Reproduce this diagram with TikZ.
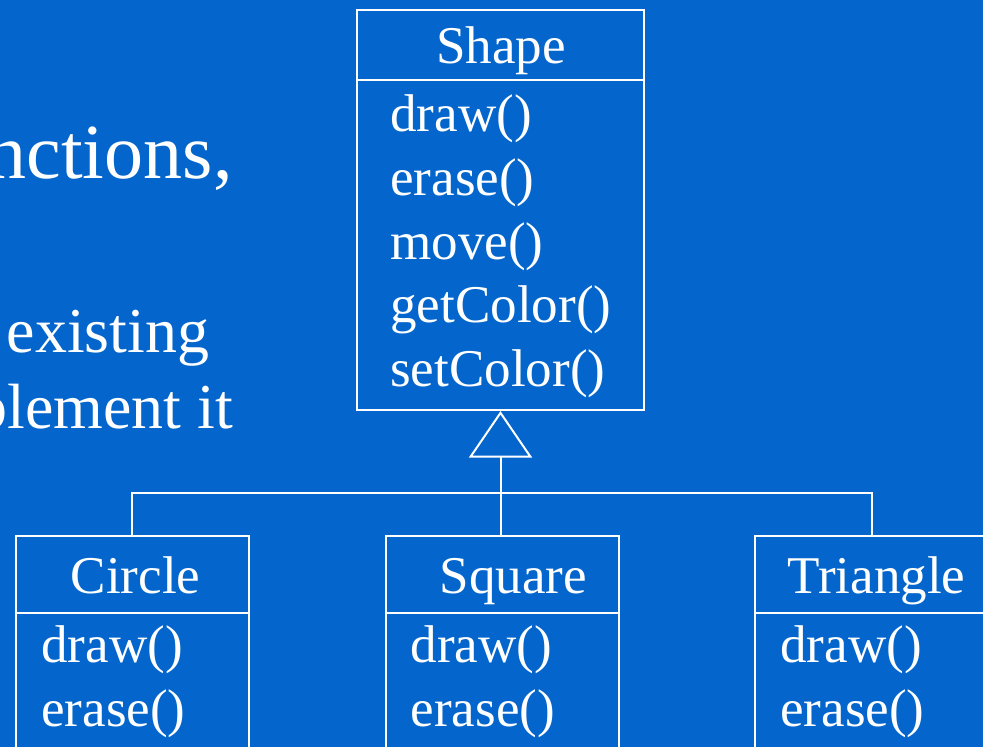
\documentclass[tikz,border=0pt]{standalone}
\usepackage{fontspec}
\setmainfont{Liberation Serif}
\usetikzlibrary{arrows.meta}
\definecolor{slide-blue}{RGB}{4, 102, 204}
\newcommand{\umlsize}{\fontsize{30.2}{36}\selectfont}

\begin{document}
\begin{tikzpicture}[x=0.02cm, y=-0.02cm, line width=0.04cm, white,
        box/.style={draw=white, inner sep=0pt, minimum width=4.66cm},
        title/.style={anchor=base, inner sep=0pt, font=\umlsize},
        member/.style={anchor=base west, inner sep=0pt, font=\umlsize}]
                \path[use as bounding box, fill=slide-blue] (0,0) rectangle (983,747);
                \clip (0,0) rectangle (983,747);
                \node[anchor=base east, inner sep=0pt, font=\fontsize{44.4}{53}\selectfont] (fn) at (233.5,178.5) {nctions,};
                \node[anchor=base west, inner sep=0pt, font=\fontsize{36.4}{44}\selectfont] (ex) at (5.7,352) {existing};
                \node[anchor=base east, inner sep=0pt, font=\fontsize{36.4}{44}\selectfont] (im) at (234,428) {plement it};
                \node[box, minimum width=5.74cm, minimum height=1.39cm] (S) at (500.5,45) {};
                \node[box, minimum width=5.74cm, minimum height=6.61cm] (Sm) at (500.5,244.85) {};
                \node[box, minimum height=1.54cm] (C) at (132.2,574.2) {};
                \node[box, minimum height=3.55cm] (Cm) at (132.2,701.4) {};
                \node[box, minimum height=1.54cm] (Q) at (502.2,574.2) {};
                \node[box, minimum height=3.55cm] (Qm) at (502.2,701.4) {};
                \node[box, minimum height=1.54cm] (T) at (871.6,574.2) {};
                \node[box, minimum height=3.55cm] (Tm) at (871.6,701.4) {};
                \node[title] (St) at (501,63.3) {Shape};
                \node[member] (S1) at (389.3,131.7) {draw()};
                \node[member] (S2) at (389.3,195.3) {erase()};
                \node[member] (S3) at (389.3,259.1) {move()};
                \node[member] (S4) at (389.3,322.9) {getColor()};
                \node[member] (S5) at (389.3,386.7) {setColor()};
                \node[title] (Ct) at (135.5,593) {Circle};
                \node[member] (C1) at (40.3,662.7) {draw()};
                \node[member] (C2) at (40.3,726.7) {erase()};
                \node[title] (Qt) at (513.5,593) {Square};
                \node[member] (Q1) at (409.6,662.7) {draw()};
                \node[member] (Q2) at (409.6,726.7) {erase()};
                \node[title] (Tt) at (876.5,593) {Triangle};
                \node[member] (T1) at (779.3,662.7) {draw()};
                \node[member] (T2) at (779.3,726.7) {erase()};
                \coordinate (hinge) at (500.5,493);
                \draw[-{Triangle[open, length=0.93cm, width=1.26cm]}] (hinge) -- (Sm.south);
                \draw (C.north) |- (hinge) -| (T.north)
                      (hinge) -- (hinge |- Q.north);
            \end{tikzpicture}
\end{document}
